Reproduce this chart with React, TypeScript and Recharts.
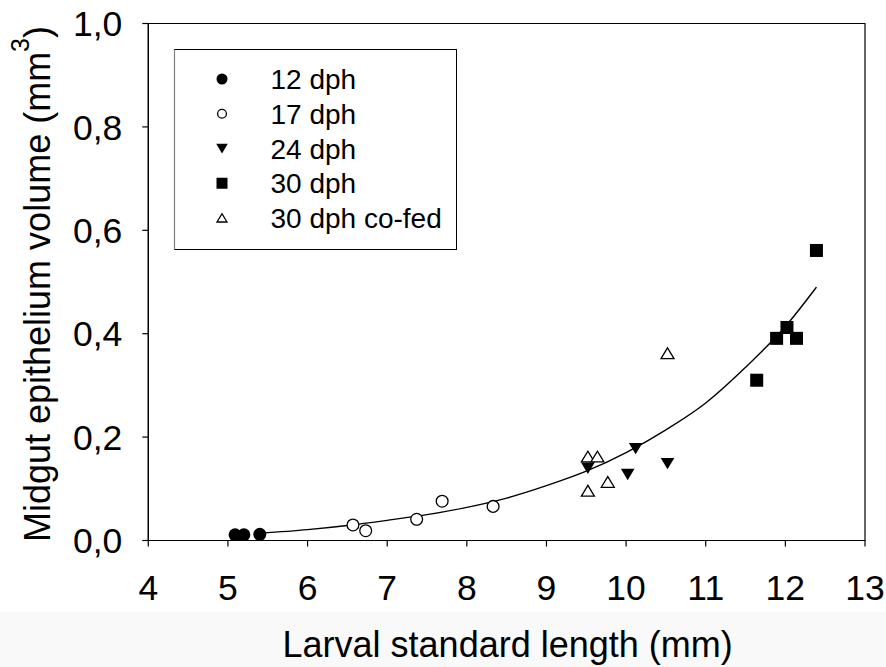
import {
  ComposedChart,
  Line,
  Scatter,
  XAxis,
  YAxis,
  ReferenceArea,
} from "recharts";

const FONT = '"Liberation Sans", Arial, sans-serif';

const X_TICKS = [4, 5, 6, 7, 8, 9, 10, 11, 12, 13];
const Y_TICKS = [0, 0.2, 0.4, 0.6, 0.8, 1.0];

// 12 dph
const D12_X = [5.09, 5.11, 5.2, 5.4];
const D12_Y = [0.011, 0.008, 0.011, 0.012];
// 17 dph
const D17_X = [6.57, 6.73, 7.37, 7.69, 8.33];
const D17_Y = [0.03, 0.019, 0.041, 0.076, 0.066];
// 24 dph
const D24_X = [9.52, 10.12, 10.02, 10.52];
const D24_Y = [0.14, 0.178, 0.128, 0.149];
// 30 dph
const D30_X = [12.39, 12.02, 11.89, 12.14, 11.64];
const D30_Y = [0.561, 0.412, 0.391, 0.391, 0.31];
// 30 dph co-fed
const COFED_X = [9.52, 9.64, 9.77, 9.52, 10.52];
const COFED_Y = [0.162, 0.162, 0.113, 0.096, 0.362];

// fitted curve
const CURVE_X = [5.4, 6, 6.5, 7, 7.5, 8, 8.5, 9, 9.5, 10, 10.5, 11, 11.5, 12, 12.39];
const CURVE_Y = [0.014, 0.021, 0.029, 0.039, 0.05, 0.064, 0.082, 0.106, 0.134, 0.17, 0.214, 0.266, 0.335, 0.414, 0.49];

type Kind = "dot" | "ring" | "down" | "square" | "up";

const toPoints = (xs: number[], ys: number[]) => xs.map((x, i) => ({ x, y: ys[i] }));

const SERIES: { name: string; kind: Kind; data: { x: number; y: number }[] }[] = [
  { name: "12 dph", kind: "dot", data: toPoints(D12_X, D12_Y) },
  { name: "17 dph", kind: "ring", data: toPoints(D17_X, D17_Y) },
  { name: "24 dph", kind: "down", data: toPoints(D24_X, D24_Y) },
  { name: "30 dph", kind: "square", data: toPoints(D30_X, D30_Y) },
  { name: "30 dph co-fed", kind: "up", data: toPoints(COFED_X, COFED_Y) },
];

const curve = toPoints(CURVE_X, CURVE_Y);

function Marker({ kind, cx, cy, s }: { kind: Kind; cx: number; cy: number; s: number }) {
  const h = s / 2;
  switch (kind) {
    case "dot":
      return <circle cx={cx} cy={cy} r={h} fill="#000" />;
    case "ring":
      return <circle cx={cx} cy={cy} r={h - 0.6} fill="#fff" stroke="#000" strokeWidth={1.3} />;
    case "down":
      return (
        <path
          d={`M${cx - h * 1.05},${cy - h * 0.85}L${cx + h * 1.05},${cy - h * 0.85}L${cx},${cy + h * 0.9}Z`}
          fill="#000"
        />
      );
    case "square":
      return <rect x={cx - h} y={cy - h} width={s} height={s} fill="#000" />;
    case "up":
      return (
        <path
          d={`M${cx - h},${cy + h * 0.8}L${cx + h},${cy + h * 0.8}L${cx},${cy - h * 0.85}Z`}
          fill="#fff"
          stroke="#000"
          strokeWidth={1.3}
        />
      );
  }
}

const fmt = (v: number) => v.toFixed(1).replace(".", ",");

function ChartLegend() {
  return (
    <svg
      width={284}
      height={202}
      style={{ position: "absolute", left: 173.5, top: 48.5, overflow: "visible" }}
    >
      <rect x={0.5} y={0.5} width={282} height={200} fill="#fff" stroke="#000" strokeWidth={1} />
      <line x1={0.5} y1={0.5} x2={0.5} y2={200.5} stroke="#808080" strokeWidth={1.2} />
      {SERIES.map((s, i) => {
        const base = 40 + i * 34.75;
        return (
          <g key={s.name}>
            <Marker kind={s.kind} cx={48} cy={base - 10} s={s.kind === "ring" || s.kind === "up" ? 10 : 11} />
            <text x={96.5} y={base} fontSize={28} fill="#000" fontFamily={FONT}>
              {s.name}
            </text>
          </g>
        );
      })}
    </svg>
  );
}

export default function App() {
  return (
    <div
      style={{
        position: "absolute",
        left: 0,
        top: 0,
        width: 886,
        height: 667,
        background: "#fff",
        fontFamily: FONT,
        overflow: "hidden",
      }}
    >
      <div style={{ position: "absolute", left: 0, top: 612, width: 886, height: 55, background: "#f9f9f9" }} />
      <ComposedChart
        width={886}
        height={667}
        margin={{ top: 23.5, right: 21, left: 48.3, bottom: 66.5 }}
        style={{ position: "absolute", left: 0, top: 0 }}
      >
        <XAxis
          dataKey="x"
          type="number"
          domain={[4, 13]}
          ticks={X_TICKS}
          allowDataOverflow
          height={60}
          tickSize={6}
          tickMargin={28}
          axisLine={{ stroke: "#000", strokeWidth: 1.2 }}
          tickLine={{ stroke: "#000", strokeWidth: 1.2 }}
          tick={{ fill: "#000", fontSize: 35.5 }}
          label={{
            content: ({ viewBox }: any) => (
              <text
                x={viewBox.x + viewBox.width / 2 + 1}
                y={viewBox.y + 116}
                textAnchor="middle"
                fontSize={36}
                fill="#000"
              >
                Larval standard length (mm)
              </text>
            ),
          }}
        />
        <YAxis
          dataKey="y"
          type="number"
          domain={[0, 1]}
          ticks={Y_TICKS}
          allowDataOverflow
          width={100}
          tickSize={6}
          tickMargin={20}
          tickFormatter={fmt}
          axisLine={{ stroke: "#000", strokeWidth: 1.2 }}
          tickLine={{ stroke: "#000", strokeWidth: 1.2 }}
          tick={{ fill: "#000", fontSize: 35.5 }}
          label={{
            content: ({ viewBox }: any) => {
              const x = viewBox.x + 2;
              const y = viewBox.y + viewBox.height / 2 + 2;
              return (
                <text
                  x={x}
                  y={y}
                  transform={`rotate(-90 ${x} ${y})`}
                  textAnchor="middle"
                  fontSize={36}
                  fill="#000"
                >
                  Midgut epithelium volume (mm
                  <tspan dy={-21} fontSize={25}>
                    3
                  </tspan>
                  <tspan dy={21}>)</tspan>
                </text>
              );
            },
          }}
        />
        <ReferenceArea
          x1={4}
          x2={13}
          y1={0}
          y2={1}
          fill="none"
          fillOpacity={0}
          stroke="#000"
          strokeWidth={1.2}
          ifOverflow="visible"
        />
        <Line
          data={curve}
          dataKey="y"
          type="monotone"
          stroke="#000"
          strokeWidth={1.4}
          dot={false}
          activeDot={false}
          isAnimationActive={false}
        />
        {SERIES.map((s) => (
          <Scatter
            key={s.name}
            name={s.name}
            data={s.data}
            dataKey="y"
            isAnimationActive={false}
            shape={(p: any) => <Marker kind={s.kind} cx={p.cx} cy={p.cy} s={13} />}
          />
        ))}
      </ComposedChart>
      <ChartLegend />
    </div>
  );
}
